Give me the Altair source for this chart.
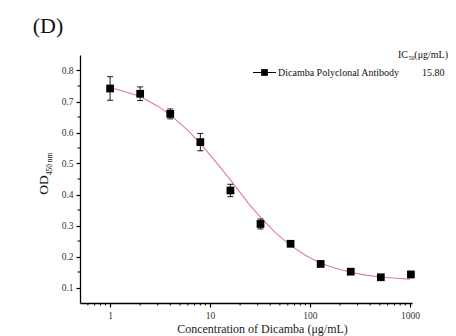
import altair as alt
import pandas as pd

# measured points
conc = [1, 2, 4, 8, 16, 32, 64, 128, 256, 512, 1024]
od = [0.742, 0.725, 0.660, 0.569, 0.413, 0.305, 0.241, 0.176, 0.151, 0.133, 0.142]
err = [0.038, 0.022, 0.016, 0.028, 0.020, 0.016, 0.006, 0.005, 0.005, 0.005, 0.010]

# fitted curve
curve_x = [1, 1.5, 2, 3, 4, 6, 8, 11, 16, 22, 25, 32, 45, 64, 90, 128, 180, 256, 360, 512, 720, 1000]
curve_y = [0.745, 0.729, 0.716, 0.685, 0.657, 0.607, 0.565, 0.512, 0.447, 0.389, 0.366, 0.327,
           0.277, 0.236, 0.204, 0.178, 0.162, 0.149, 0.140, 0.134, 0.130, 0.127]

y_major = [0.1, 0.2, 0.3, 0.4, 0.5, 0.6, 0.7, 0.8]
y_minor = [0.15, 0.25, 0.35, 0.45, 0.55, 0.65, 0.75]
x_major = [1, 10, 100, 1000]
x_minor = [0.6, 0.7, 0.8, 0.9, 2, 3, 4, 5, 6, 7, 8, 9, 20, 30, 40, 50, 60, 70, 80, 90,
           200, 300, 400, 500, 600, 700, 800, 900]

FONT = "Liberation Serif"
W, H = 332, 248

pts = pd.DataFrame({"conc": conc, "od": od, "lo": [a - b for a, b in zip(od, err)],
                    "hi": [a + b for a, b in zip(od, err)]})
cur = pd.DataFrame({"conc": curve_x, "od": curve_y})

xs = alt.Scale(type="log", domain=[0.5, 1050], nice=False)
ys = alt.Scale(domain=[0.05, 0.85], nice=False, zero=False)

xaxis = alt.Axis(values=x_major, format="d", title="Concentration of Dicamba (μg/mL)",
                 grid=False, domainColor="black", domainWidth=1.3, tickColor="black",
                 tickSize=4, tickWidth=1.2, labelFont=FONT, labelFontSize=9.5, labelColor="#333",
                 labelPadding=3, labelOverlap=False, titleFont=FONT, titleFontSize=12,
                 titleFontWeight="normal", titleColor="#222", titlePadding=4, labelFlush=False,
                 titleX=182, titleAlign="center", titleAnchor="start")
yaxis = alt.Axis(values=y_major, format=".1f", title=None, grid=False, domainColor="black",
                 domainWidth=1.3, tickColor="black", tickSize=4, tickWidth=1.2, labelFont=FONT,
                 labelFontSize=9.5, labelColor="#333", labelPadding=3, labelOverlap=False)

X = lambda f: alt.X(f, scale=xs, axis=xaxis)
Y = lambda f: alt.Y(f, scale=ys, axis=yaxis)

base = alt.Chart(pts)

line = alt.Chart(cur).mark_line(color="#d9808a", strokeWidth=1.1).encode(
    x=X("conc:Q"), y=Y("od:Q"))

ebar = base.mark_rule(color="black", strokeWidth=0.9).encode(
    x=X("conc:Q"), y=Y("lo:Q"), y2="hi:Q")
cap_hi = base.mark_rule(color="black", strokeWidth=0.9, xOffset=-3, x2Offset=3).encode(
    x=X("conc:Q"), x2="conc:Q", y=Y("hi:Q"))
cap_lo = base.mark_rule(color="black", strokeWidth=0.9, xOffset=-3, x2Offset=3).encode(
    x=X("conc:Q"), x2="conc:Q", y=Y("lo:Q"))
points = base.mark_square(color="black", size=60, opacity=1).encode(x=X("conc:Q"), y=Y("od:Q"))

ymin_df = pd.DataFrame({"v": y_minor})
xmin_df = pd.DataFrame({"v": x_minor})
ytick_minor = alt.Chart(ymin_df).mark_rule(color="black", strokeWidth=1).encode(
    y=Y("v:Q"), x=alt.value(0), x2=alt.value(-2.5))
xtick_minor = alt.Chart(xmin_df).mark_rule(color="black", strokeWidth=1).encode(
    x=X("v:Q"), y=alt.value(H), y2=alt.value(H + 2.5))

OX, OY = 80, 55


def txt(s, ax, ay, size, align="left", angle=0, baseline="middle"):
    kw = dict(text=s, font=FONT, fontSize=size, align=align, baseline=baseline, color="#111")
    if angle:
        kw["angle"] = angle
    return alt.Chart(pd.DataFrame({"a": [0]})).mark_text(**kw).encode(
        x=alt.value(ax - OX), y=alt.value(ay - OY))


label_d = txt("(D)", 48, 26, 22, align="center")
ytitle_od = txt("OD", 43.5, 185, 13.5, align="center", angle=270)
ytitle_sub = txt("450 nm", 49.5, 164, 7.5, align="center", angle=270)

ic_main = txt("IC", 408, 55, 10, align="right")
ic_sub = txt("50", 408.5, 58, 6)
ic_unit = txt("(μg/mL)", 448, 55, 10, align="right")
leg_name = txt("Dicamba Polyclonal Antibody", 278, 72.5, 10)
leg_val = txt("15.80", 422, 72.5, 10)

leg_line = alt.Chart(pd.DataFrame({"a": [0]})).mark_rule(color="black", strokeWidth=1).encode(
    x=alt.value(253 - OX), x2=alt.value(276 - OX), y=alt.value(72.5 - OY))
leg_sq = alt.Chart(pd.DataFrame({"a": [0]})).mark_square(color="black", size=45, opacity=1).encode(
    x=alt.value(264.5 - OX), y=alt.value(72.5 - OY))

chart = alt.layer(
    line, ebar, cap_hi, cap_lo, points, ytick_minor, xtick_minor,
    label_d, ytitle_od, ytitle_sub, ic_main, ic_sub, ic_unit, leg_name, leg_val, leg_line, leg_sq
).properties(
    width=W, height=H,
    autosize=alt.AutoSizeParams(type="none"),
    padding={"left": OX, "top": OY, "right": 456 - OX - W, "bottom": 336 - OY - H},
    background="white",
).configure_view(stroke=None)

chart.save("out.html", embed_options={"renderer": "svg", "actions": False})
